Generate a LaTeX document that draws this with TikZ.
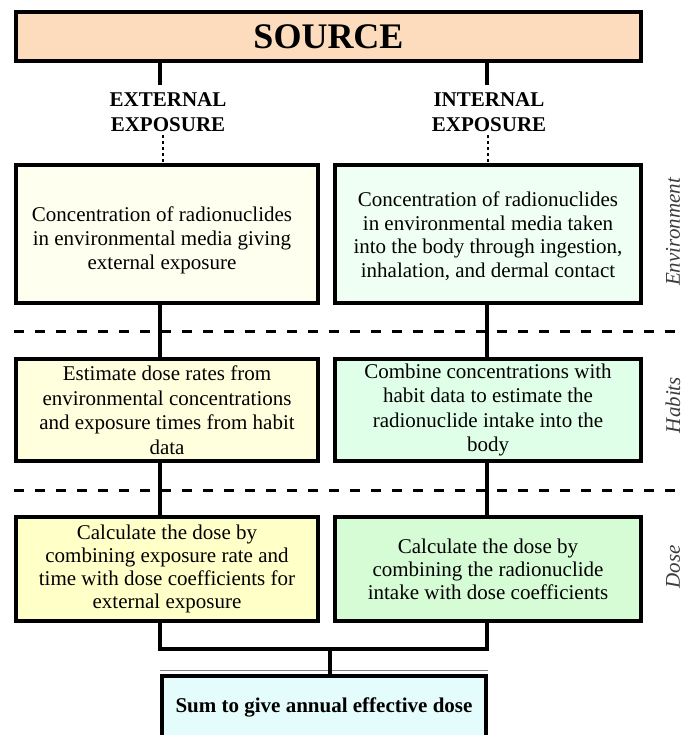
\documentclass[tikz,border=0pt]{standalone}
\usepackage{fontspec}
\setmainfont{Liberation Serif}
\definecolor{srcfill}{RGB}{253,220,190}
\definecolor{envL}{RGB}{255,255,240}
\definecolor{envR}{RGB}{240,255,244}
\definecolor{habL}{RGB}{255,255,222}
\definecolor{habR}{RGB}{224,255,232}
\definecolor{doseL}{RGB}{255,255,200}
\definecolor{doseR}{RGB}{214,252,214}
\definecolor{sumfill}{RGB}{228,252,252}
\definecolor{sidegray}{RGB}{60,60,60}
\begin{document}
\begin{tikzpicture}[x=1pt,y=-1pt,
  box/.style={draw=black,line width=3.5pt,rectangle,inner sep=0pt,align=center,
    font=\fontsize{21}{23}\selectfont},
  boxtext/.style={inner sep=0pt,align=center},
  conn/.style={line width=4.5pt},
  sepline/.style={line width=3pt,dash pattern=on 10pt off 11pt},
  dotline/.style={line width=1.8pt,dash pattern=on 3pt off 3pt},
  sidelab/.style={rotate=90,font=\fontsize{21}{24}\selectfont\itshape,text=sidegray},
  headlab/.style={align=center,font=\fontsize{21}{25}\selectfont\bfseries}]
\useasboundingbox (0,0) rectangle (686,735);
\coordinate (lx) at (160,0);
\coordinate (rx) at (487,0);
% separators
\draw[sepline] (14,331) -- (682,331);
\draw[sepline] (14,490) -- (682,490);
% source
\node[box,fill=srcfill,minimum width=625pt,minimum height=49pt,font=\fontsize{36}{40}\selectfont\bfseries] (src) at (328.5,36.5) {SOURCE};
% exposure labels
\node[headlab] (extlab) at (168,112) {EXTERNAL\\EXPOSURE};
\node[headlab] (intlab) at (489,112) {INTERNAL\\EXPOSURE};
% boxes
\node[box,fill=envL,minimum width=302pt,minimum height=138pt] (env1) at (167,234) {};
\node[boxtext,font=\fontsize{21}{24}\selectfont] (env1txt) at (162,240) {Concentration of radionuclides\\in environmental media giving\\external exposure};
\node[box,fill=envR,minimum width=306pt,minimum height=138pt] (env2) at (488,234) {};
\node[boxtext,font=\fontsize{21}{23.5}\selectfont] (env2txt) at (488,236) {Concentration of radionuclides\\in environmental media taken\\into the body through ingestion,\\inhalation, and dermal contact};
\node[box,fill=habL,minimum width=302pt,minimum height=102pt,font=\fontsize{21}{24.5}\selectfont] (hab1) at (167,410) {Estimate dose rates from\\environmental concentrations\\and exposure times from habit\\data};
\node[box,fill=habR,minimum width=306pt,minimum height=102pt,font=\fontsize{21}{24.5}\selectfont] (hab2) at (488,410) {Combine concentrations with\\habit data to estimate the\\radionuclide intake into the\\body};
\node[box,fill=doseL,minimum width=302pt,minimum height=104pt] (dose1) at (167,569) {Calculate the dose by\\combining exposure rate and\\time with dose coefficients for\\external exposure};
\node[box,fill=doseR,minimum width=306pt,minimum height=104pt] (dose2) at (488,569) {Calculate the dose by\\combining the radionuclide\\intake with dose coefficients};
\node[box,fill=sumfill,minimum width=324pt,minimum height=62pt,font=\fontsize{21}{24}\selectfont\bfseries] (sum) at (324,707) {Sum to give annual effective dose};
\draw[line width=1pt,gray] (sum.north west) ++(0,-3.5) -- ([yshift=3.5pt]sum.north east);
% side labels
\node[sidelab] (lenv) at (673,232) {Environment};
\node[sidelab] (lhab) at (673,405) {Habits};
\node[sidelab] (ldose) at (673,567) {Dose};
% connectors
\draw[conn] (src.south -| lx) -- ([yshift=4pt]lx |- extlab.north);
\draw[conn] (src.south -| rx) -- ([yshift=4pt]rx |- intlab.north);
\draw[dotline] ([xshift=3pt]extlab.south -| lx) -- ([xshift=3pt]env1.north -| lx);
\draw[dotline] ([xshift=1pt]intlab.south -| rx) -- ([xshift=1pt]env2.north -| rx);
\draw[conn] (env1.south -| lx) -- (hab1.north -| lx);
\draw[conn] (env2.south -| rx) -- (hab2.north -| rx);
\draw[conn] (hab1.south -| lx) -- (dose1.north -| lx);
\draw[conn] (hab2.south -| rx) -- (dose2.north -| rx);
\coordinate (merge) at (330,649);
\draw[conn] (dose1.south -| lx) -- (lx |- merge) -- (rx |- merge) -- (dose2.south -| rx);
\draw[conn] (merge) -- ([yshift=-3.5pt]sum.north -| merge);
\end{tikzpicture}
\end{document}
